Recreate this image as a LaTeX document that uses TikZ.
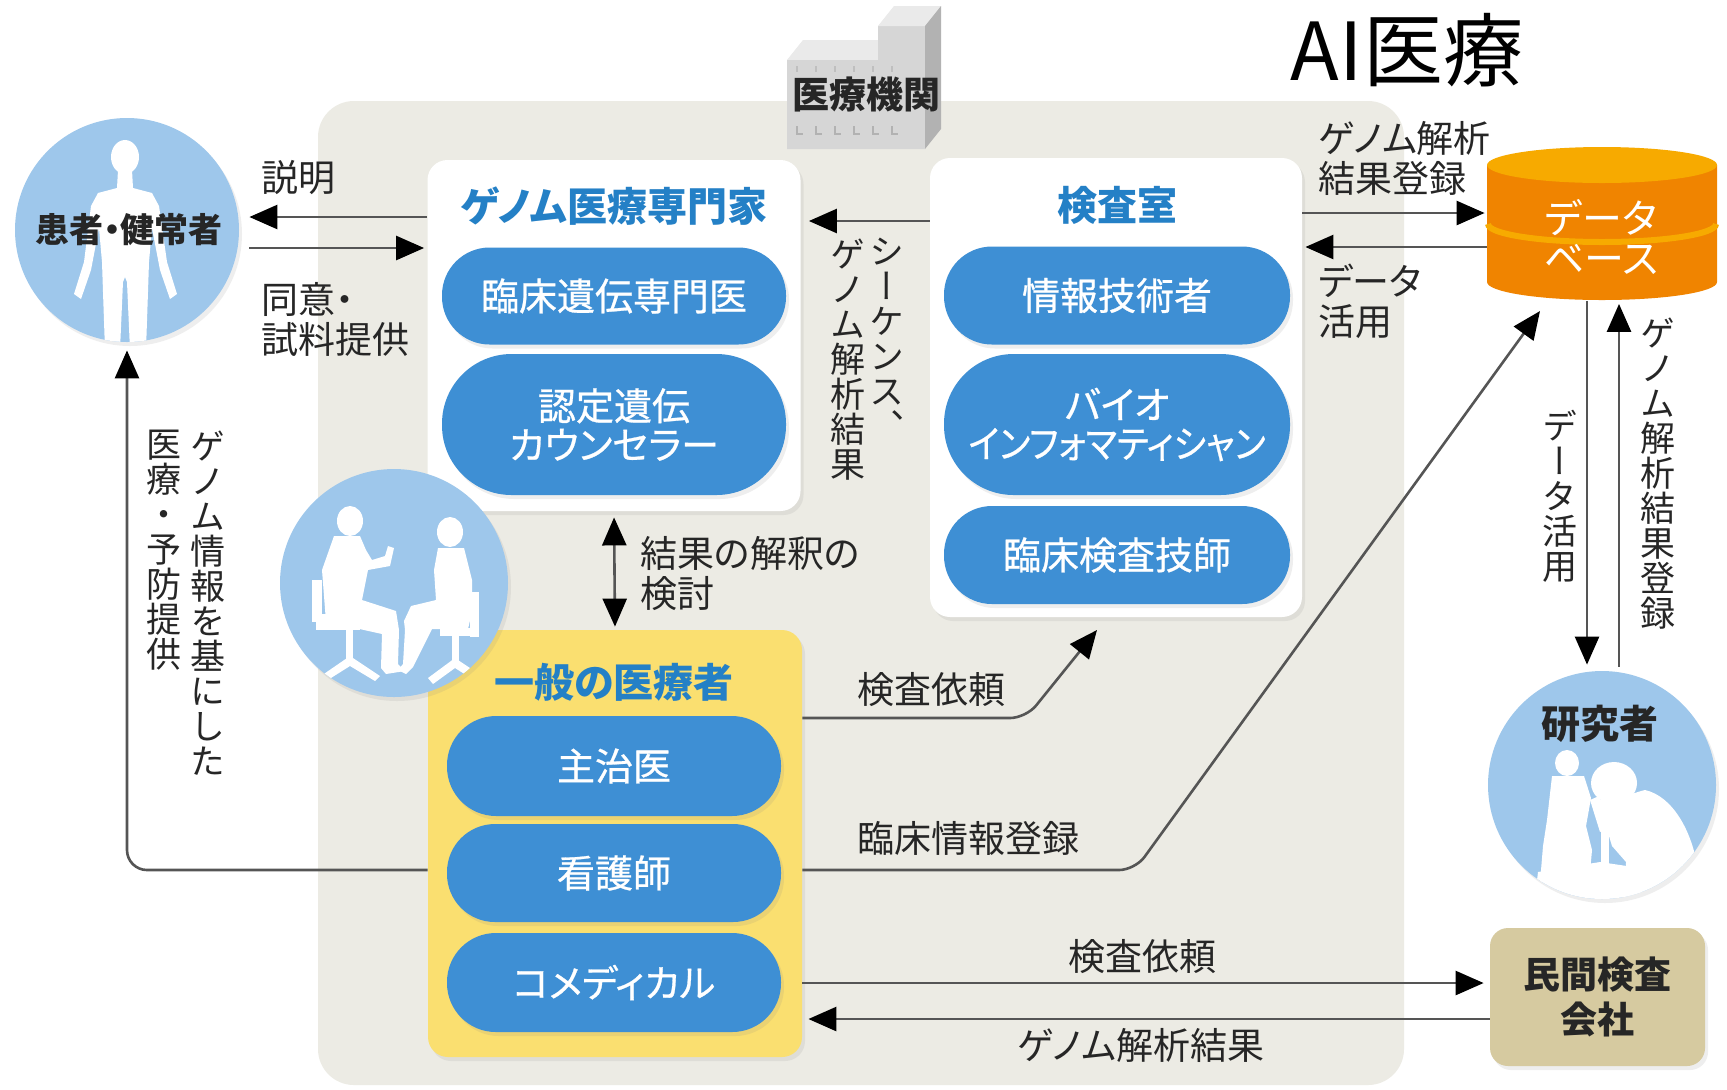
\documentclass[tikz,border=0pt]{standalone}
\usepackage{fontspec}
\usepackage{graphicx}
\setmainfont{Noto Sans CJK JP}[RawFeature=+palt]
\newfontfamily\vjp{Noto Sans CJK JP}[RawFeature=+vert]
\newfontfamily\pilljp{Noto Sans CJK JP}[RawFeature=+palt, FakeBold=0.7]
\usetikzlibrary{arrows.meta,shadows}

\definecolor{panel}{RGB}{236,235,228}
\definecolor{pillblue}{RGB}{62,143,212}
\definecolor{headblue}{RGB}{36,128,198}
\definecolor{circblue}{RGB}{158,199,235}
\definecolor{yellowbox}{RGB}{250,223,112}
\definecolor{tanbox}{RGB}{214,202,160}
\definecolor{dborange}{RGB}{240,132,0}
\definecolor{dbtop}{RGB}{247,170,0}
\definecolor{ink}{RGB}{38,38,38}
\definecolor{wire}{RGB}{85,85,85}
\definecolor{bfront}{RGB}{214,214,214}
\definecolor{btop}{RGB}{234,234,234}
\definecolor{bside}{RGB}{178,178,178}

\tikzset{
  softshadow/.style={drop shadow={opacity=0.13, shadow xshift=1.5pt, shadow yshift=-2pt}},
  card/.style={rectangle, rounded corners=10pt, fill=white, inner sep=0pt, softshadow},
  pill/.style={rectangle, rounded corners=#1, fill=pillblue, text=white, inner sep=0pt,
    align=center, font=\pilljp\fontsize{19}{19.5}\selectfont, softshadow},
  hdr/.style={font=\bfseries\fontsize{20}{24}\selectfont, text=headblue, inner sep=0pt},
  disc/.style={circle, fill=circblue, inner sep=0pt, softshadow},
  lab/.style={font=\fontsize{18.5}{20}\selectfont, text=ink, inner sep=0pt, align=left},
  vlab/.style={font=\vjp\fontsize{17.5}{17.5}\selectfont, text=ink, inner sep=0pt,
    align=center, anchor=north},
  arr/.style={draw=wire, line width=1.3pt, -{Triangle[length=14pt, width=12pt, color=black]}},
  biarr/.style={draw=wire, line width=1.3pt,
    {Triangle[length=14pt, width=12pt, color=black]}-{Triangle[length=14pt, width=12pt, color=black]}},
}

\begin{document}
\begin{tikzpicture}[x=0.5pt,y=-0.5pt]
\useasboundingbox (0,0) rectangle (1727,1089);
\fill[white] (0,0) rectangle (1727,1089);

% medical institution panel
\fill[panel, rounded corners=18pt] (318,101) rectangle (1404,1085);

% building block
\fill[btop] (787,60) -- (878,60) -- (894,40) -- (803,40) -- cycle;
\fill[bfront] (787,60) -- (878,60) -- (878,26) -- (925,26) -- (925,149) -- (787,149) -- cycle;
\fill[btop] (878,26) -- (925,26) -- (941,6) -- (894,6) -- cycle;
\fill[bside] (925,26) -- (941,6) -- (941,129) -- (925,149) -- cycle;
\foreach \i in {0,...,5} {
  \draw[black!30, line width=0.6pt] (797+\i*19,126) -- (797+\i*19,134) -- (803+\i*19,134);
  \draw[black!25, line width=0.6pt] (797+\i*19,66) -- (797+\i*19,72);
}
\node[font=\bfseries\fontsize{18.5}{20}\selectfont, text=ink, inner sep=0pt] (inst) at (866,94) {医療機関};

% title
\node[font=\fontsize{40}{42}\selectfont, text=black, inner sep=0pt] (ttl) at (1407,50) {AI医療};

% groups
\node[card, minimum width=186.5pt, minimum height=175.5pt] (gbox) at (614,335.5) {};
\node[card, minimum width=186pt, minimum height=229.5pt] (lbox) at (1116,387.5) {};
\node[card, fill=yellowbox, minimum width=187pt, minimum height=213.5pt] (ybox) at (615,843.5) {};

\node[hdr] (gttl) at (614,206) {ゲノム医療専門家};
\node[hdr] (lttl) at (1117,205) {検査室};
\node[hdr] (yttl) at (614,682) {一般の医療者};

\node[pill=23.8pt, minimum width=172pt, minimum height=48.5pt] (p1) at (614,296) {臨床遺伝専門医};
\node[pill=34.8pt, minimum width=172pt, minimum height=70.5pt] (p2) at (614,424.5) {認定遺伝\\カウンセラー};
\node[pill=24pt, minimum width=173pt, minimum height=49pt] (p3) at (1117,295.5) {情報技術者};
\node[pill=34.8pt, minimum width=173pt, minimum height=70.5pt] (p4) at (1117,424.5) {バイオ\\\scalebox{0.92}[1]{インフォマティシャン}};
\node[pill=24pt, minimum width=173pt, minimum height=49pt] (p5) at (1117,555) {臨床検査技師};
\node[pill=24.6pt, minimum width=167pt, minimum height=50pt] (p6) at (614,766) {主治医};
\node[pill=24pt, minimum width=167pt, minimum height=49pt] (p7) at (614,873) {看護師};
\node[pill=24.4pt, minimum width=167pt, minimum height=49.5pt] (p8) at (614,982.5) {コメディカル};

% patient
\node[disc, minimum size=112pt] (pat) at (127,230) {};
\begin{scope}
  \clip (pat.center) circle[radius=112];
  \fill[white] (125,157) ellipse[x radius=14, y radius=17];
  \fill[white] (118,170) -- (132,170) -- (133,188) -- (152,193) -- (159,206) -- (167,262)
    -- (177,294) -- (170,299) -- (160,270) -- (152,228) -- (149,262) -- (148,292)
    -- (146,350) -- (130,350) -- (127,282) -- (125,277) -- (123,282) -- (120,350)
    -- (105,350) -- (103,292) -- (102,262) -- (99,228) -- (91,270) -- (81,299)
    -- (74,294) -- (84,262) -- (91,206) -- (98,193) -- (117,188) -- cycle;
\end{scope}
\node[font=\bfseries\fontsize{17}{20}\selectfont, text=ink, inner sep=0pt] (patlbl) at (129,230) {患者・健常者};

% counselling
\node[disc, minimum size=114pt] (talk) at (394,583) {};
\begin{scope}
  \clip (talk.center) circle[radius=114];
  % left person and chair
  \fill[white] (350,521) ellipse[x radius=13, y radius=15];
  \fill[white] (334,536) -- (360,536) -- (366,550) -- (372,560) -- (385,556) -- (388,546)
    -- (394,548) -- (390,566) -- (368,570) -- (362,600) -- (396,611) -- (399,630) -- (398,664)
    -- (405,671) -- (386,674) -- (381,668) -- (382,634) -- (355,628) -- (326,622)
    -- (322,570) -- cycle;
  \fill[white] (312,580) rectangle (322,622);
  \fill[white] (316,614) rectangle (360,630);
  \fill[white] (346,628) rectangle (353,662);
  \fill[white] (318,678) -- (350,656) -- (380,676) -- (375,681) -- (350,666) -- (323,683) -- cycle;
  % right person and chair
  \fill[white] (450,532) ellipse[x radius=13, y radius=15];
  \fill[white] (438,548) -- (464,548) -- (472,580) -- (472,612) -- (468,629) -- (432,629)
    -- (413,667) -- (406,674) -- (398,670) -- (403,664) -- (405,630) -- (404,621)
    -- (411,606) -- (436,600) -- (434,570) -- cycle;
  \fill[white] (470,592) rectangle (479,637);
  \fill[white] (440,628) rectangle (479,636);
  \fill[white] (452,636) rectangle (459,664);
  \fill[white] (428,678) -- (455,658) -- (482,676) -- (477,682) -- (455,668) -- (433,684) -- cycle;
\end{scope}

% researchers
\node[disc, minimum size=114pt] (res) at (1602,785) {};
\begin{scope}
  \clip (res.center) circle[radius=114];
  % colleague at the microscope
  \fill[white] (1567,763) ellipse[x radius=12, y radius=13];
  \fill[white] (1552,776) -- (1584,776) -- (1591,798) -- (1586,826) -- (1592,850)
    -- (1590,872) -- (1540,882) -- (1543,846) -- (1547,820) -- cycle;
  % microscope
  \fill[white] (1590,800) -- (1599,796) -- (1609,828) -- (1600,832) -- cycle;
  \fill[white] (1601,828) rectangle (1609,872);
  % researcher leaning in
  \fill[white] (1614,783) ellipse[x radius=23, y radius=21];
  \fill[white] (1598,800) .. controls (1620,800) and (1635,792) .. (1645,790)
    .. controls (1672,796) and (1692,830) .. (1698,870) -- (1696,905) -- (1624,905)
    -- (1626,862) -- (1612,846) -- cycle;
  % bench joining the figures
  \fill[white] (1538,872) -- (1600,862) -- (1640,868) -- (1642,905) -- (1534,905) -- cycle;
\end{scope}
\node[font=\bfseries\fontsize{19.5}{20}\selectfont, text=ink, inner sep=0pt] (reslbl) at (1600,724) {研究者};

% private laboratory
\node[rectangle, rounded corners=9pt, fill=tanbox, minimum width=107.5pt, minimum height=69pt,
  inner sep=0pt, font=\bfseries\fontsize{18.5}{22.5}\selectfont, align=center, text=ink,
  softshadow] (priv) at (1597.5,997) {民間検査\\会社};

% database cylinder
\fill[dborange] (1487,165) -- (1487,282) arc[start angle=180, end angle=0, x radius=115, y radius=18]
  -- (1717,165) -- cycle;
\draw[dbtop, line width=3pt] (1488,224) arc[start angle=180, end angle=0, x radius=114, y radius=18];
\fill[dbtop] (1602,165) ellipse[x radius=115, y radius=18];
\node[inner sep=0pt, minimum width=115pt, minimum height=76.5pt] (db) at (1602,224) {};
\node[font=\fontsize{20}{20}\selectfont, text=white, align=center, inner sep=0pt] (dblbl) at (1601,237) {データ\\ベース};

% bend points
\coordinate (kreq) at (1097,630);
\coordinate (creg) at (1540,311);

% connectors
\draw[arr, shorten >=5pt] (gbox.west |- 0,217) -- (pat.east |- 0,217);
\draw[arr, shorten <=5pt, shorten >=1.5pt] (pat.east |- 0,248) -- (gbox.west |- 0,248);
\draw[arr, shorten >=4pt] (lbox.west |- 0,221) -- (gbox.east |- 0,221);
\draw[arr, shorten >=1pt] (lbox.east |- 0,213) -- (db.west |- 0,213);
\draw[arr, shorten >=1.5pt] (db.west |- 0,247) -- (lbox.east |- 0,247);
\draw[biarr, shorten <=3pt, shorten >=1.5pt] (gbox.south) -- (ybox.north);
\draw[arr, rounded corners=8pt] (ybox.east |- 0,718) -- (1026,718) -- (kreq);
\draw[arr, rounded corners=8pt] (ybox.east |- 0,870) -- (1135,870) -- (creg);
\draw[arr, rounded corners=10pt, shorten >=4pt] (ybox.west |- 0,870) -- (pat.south |- 0,870) -- (pat.south);
\draw[arr, shorten >=3pt] (ybox.east |- 0,983) -- (priv.west |- 0,983);
\draw[arr, shorten >=3pt] (priv.west |- 0,1019) -- (ybox.east |- 0,1019);
\draw[arr, shorten >=3pt] ([xshift=-7.5pt]db.south) -- ([xshift=-7.5pt]res.north);
\draw[arr, shorten <=2pt, shorten >=1.5pt] ([xshift=8.5pt]res.north) -- ([xshift=8.5pt]db.south);

% labels
\node[lab, anchor=west] (l1) at (261,178) {説明};
\node[lab, anchor=west] (l2) at (261,319.5) {同意・\\試料提供};
\node[lab, anchor=west] (l3) at (1318,158) {ゲノム解析\\結果登録};
\node[lab, anchor=west] (l4) at (1318,301.5) {データ\\活用};
\node[lab, anchor=west] (l5) at (640,573.5) {結果の解釈の\\検討};
\node[lab] (l6) at (931,690) {検査依頼};
\node[lab] (l7) at (968,838) {臨床情報登録};
\node[lab] (l8) at (1142,957) {検査依頼};
\node[lab] (l9) at (1141,1045) {ゲノム解析結果};

% vertical labels
\node[vlab] (v1) at (887,238) {シ\\ー\\ケ\\ン\\ス\\、};
\node[vlab] (v2) at (848,238) {ゲ\\ノ\\ム\\解\\析\\結\\果};
\node[vlab] (v3) at (208,430) {ゲ\\ノ\\ム\\情\\報\\を\\基\\に\\し\\た};
\node[vlab] (v4) at (164,430) {医\\療\\・\\予\\防\\提\\供};
\node[vlab] (v5) at (1560,410) {デ\\ー\\タ\\活\\用};
\node[vlab] (v6) at (1658,317) {ゲ\\ノ\\ム\\解\\析\\結\\果\\登\\録};
\end{tikzpicture}
\end{document}
